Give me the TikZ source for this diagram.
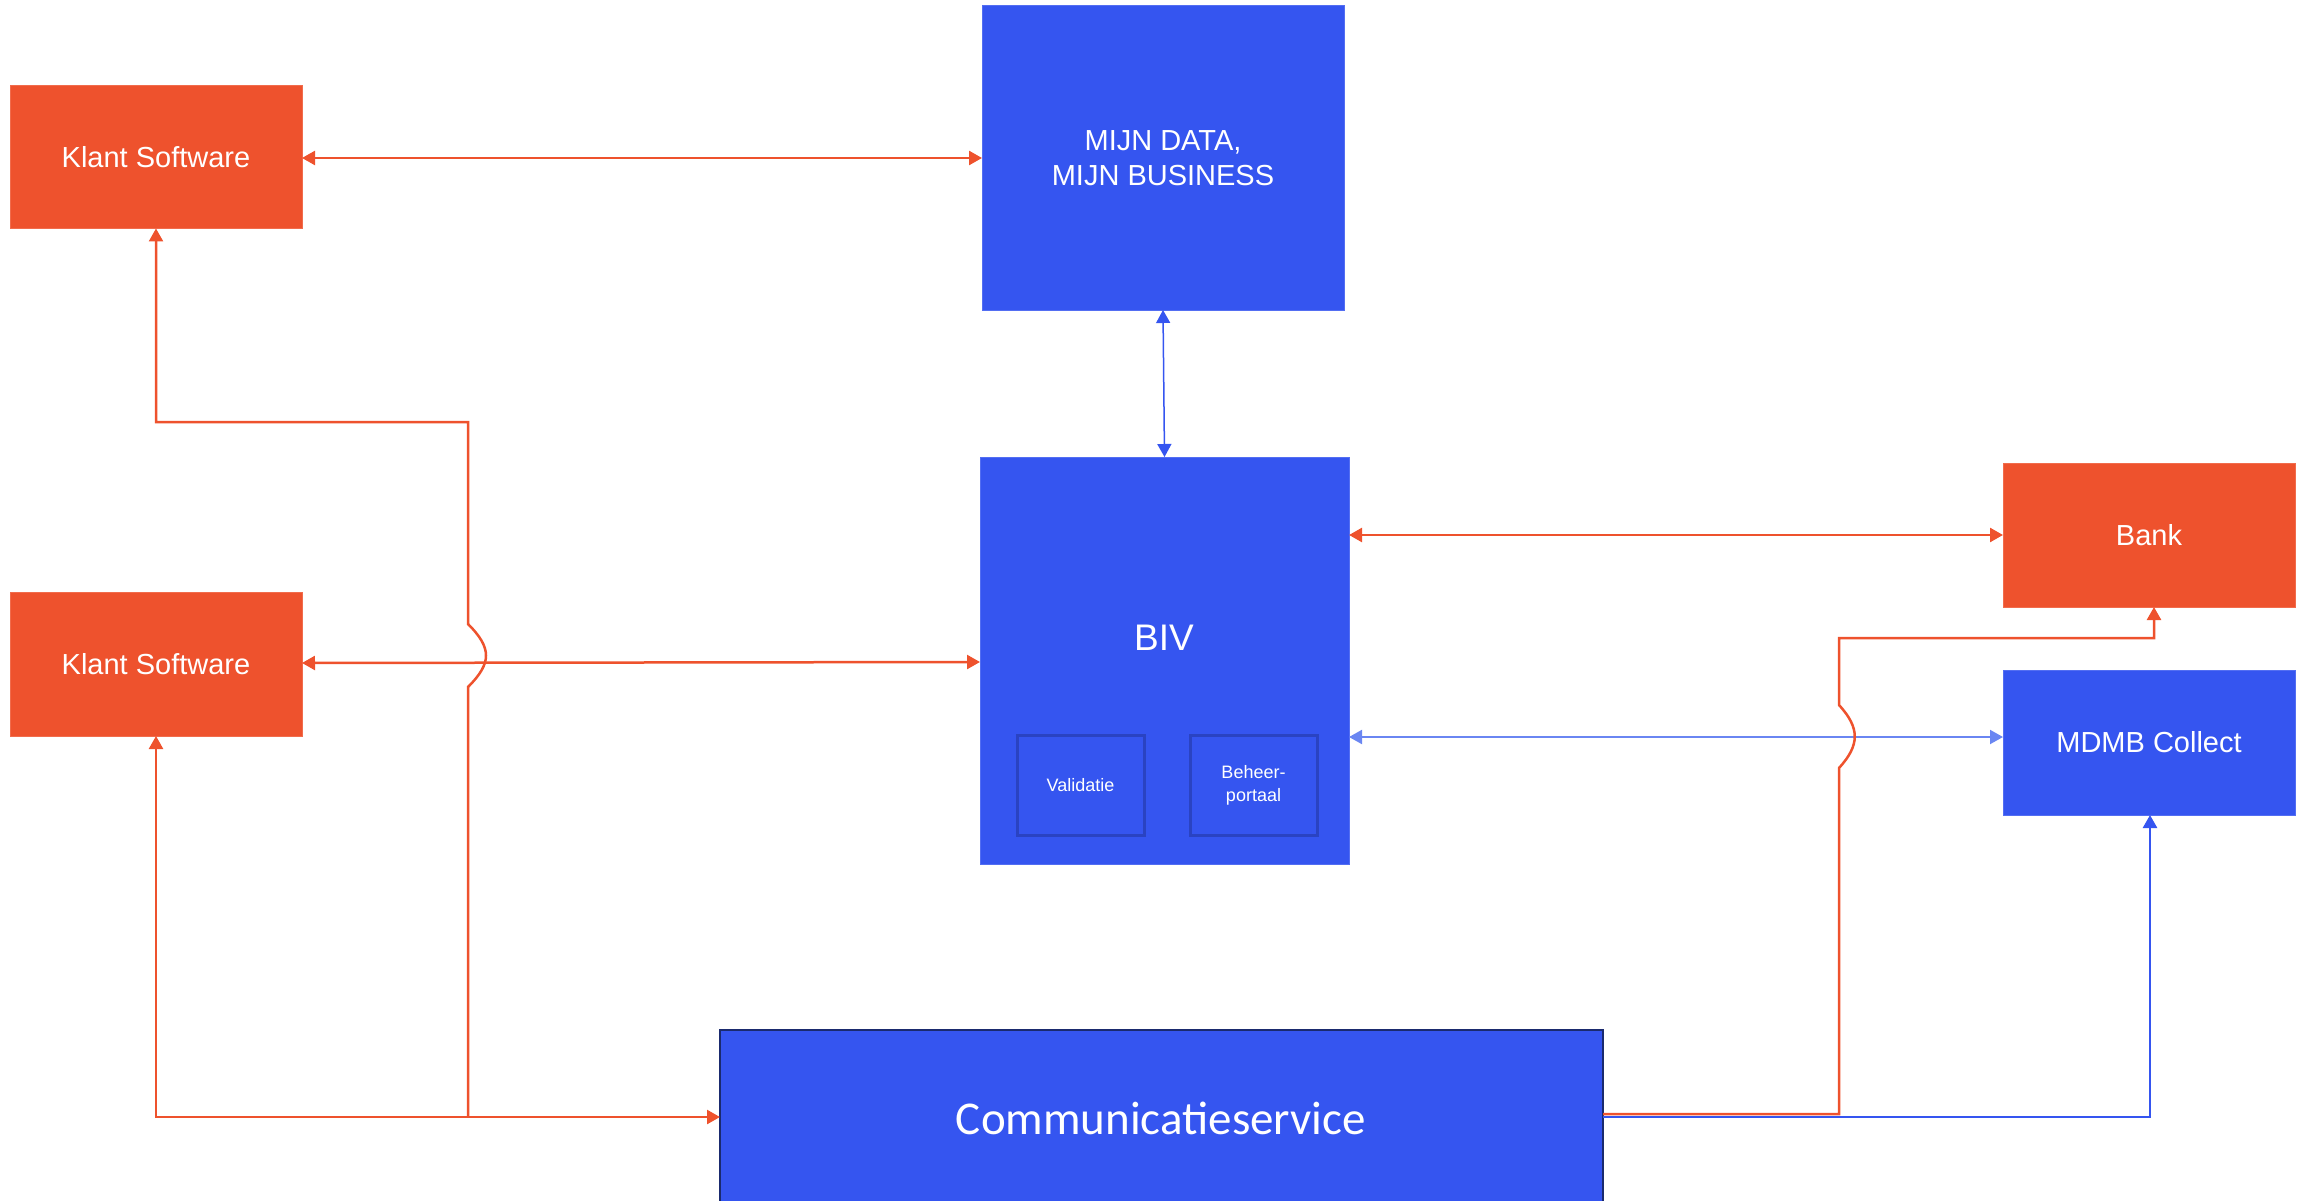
\documentclass[tikz,border=0pt]{standalone}
\usepackage{fontspec}
\setmainfont{Liberation Sans}
\newfontfamily\carlito{Carlito}
\usetikzlibrary{arrows.meta}
\definecolor{ored}{HTML}{EE522D}
\definecolor{mblue}{HTML}{3555F0}
\definecolor{lblue}{HTML}{6A86F2}
\definecolor{dblue}{HTML}{2A43C2}
\definecolor{navy}{HTML}{1A2A6E}
\tikzset{
  box/.style={rectangle, inner sep=0pt, outer sep=0pt, text=white, align=center, font=\fontsize{29}{35}\selectfont},
  obox/.style={box, fill=ored, draw=ored!85!white, line width=1pt},
  bbox/.style={box, fill=mblue, draw=mblue!85!white, line width=1pt},
  ibox/.style={box, fill=mblue, draw=dblue, line width=3pt, font=\fontsize{18}{23}\selectfont},
  tip/.style={-{Triangle[length=13pt,width=14pt]}},
  both/.style={{Triangle[length=13pt,width=14pt]}-{Triangle[length=13pt,width=14pt]}},
  rline/.style={draw=ored, line width=2.5pt},
  bline/.style={draw=mblue, line width=2.5pt},
}
\begin{document}
\begin{tikzpicture}[x=1pt,y=-1pt]
\useasboundingbox (0,0) rectangle (2308,1201);
\clip (0,0) rectangle (2308,1201);
% nodes
\node[obox, minimum width=292pt, minimum height=143pt] (k1) at (156,157) {Klant Software};
\node[obox, minimum width=292pt, minimum height=144pt] (k2) at (156,664) {Klant Software};
\node[bbox, minimum width=362pt, minimum height=304pt] (mijn) at (1163,158) {MIJN DATA,\\MIJN BUSINESS};
\node[bbox, minimum width=369pt, minimum height=407pt] (biv) at (1164.5,660.5) {};
\node[text=white, font=\fontsize{37}{40}\selectfont] (bivlabel) at (1164,638) {BIV};
\node[ibox, minimum width=127pt, minimum height=100pt] (val) at (1080.5,785) {Validatie};
\node[ibox, minimum width=127pt, minimum height=100pt] (beh) at (1253.5,785) {Beheer-\\portaal};
\node[obox, minimum width=292pt, minimum height=144pt] (bank) at (2149,535) {Bank};
\node[bbox, minimum width=292pt, minimum height=145pt] (mdmb) at (2149,742.5) {MDMB Collect};
\node[rectangle, inner sep=0pt, outer sep=0pt, fill=mblue, draw=navy, line width=2pt, minimum width=883pt, minimum height=200pt] (comm) at (1161.5,1130) {};
\node[text=white, font=\carlito\fontsize{47}{50}\selectfont] (commlabel) at (1161,1118) {Communicatieservice};
% junction coordinates
\coordinate (jl) at (468,1117);
\coordinate (cr) at (1603,1114);
\coordinate (cb) at (1603,1117);
% left network
\draw[rline, both] (k1.east |- 0,158) -- (mijn.west |- 0,158);
\draw[rline, both] (k2.east |- 0,663) -- (biv.west |- 0,662);
\draw[rline, tip] (jl) -- (comm.west |- jl);
\draw[rline, tip] (jl) -- (156,1117) -- (k2.south);
\draw[rline, tip] (jl) -- (468,687) .. controls (492,663) and (492,648) .. (468,624) -- (468,422) -- (156,422) -- (k1.south);
% centre
\draw[draw=mblue, line width=1.5pt, both] (mijn.south) -- (biv.north);
\draw[rline, both] (biv.east |- bank.west) -- (bank.west);
\draw[draw=lblue, line width=2pt, both] (biv.east |- 0,737) -- (mdmb.west |- 0,737);
% right network
\draw[bline, tip] (cb) -- (2150,1117) -- (2150,815);
\draw[rline, tip] (cr) -- (1839,1114) -- (1839,768) .. controls (1860,745) and (1860,728) .. (1839,705) -- (1839,638) -- (2154,638) -- (2154,607);
\end{tikzpicture}
\end{document}
